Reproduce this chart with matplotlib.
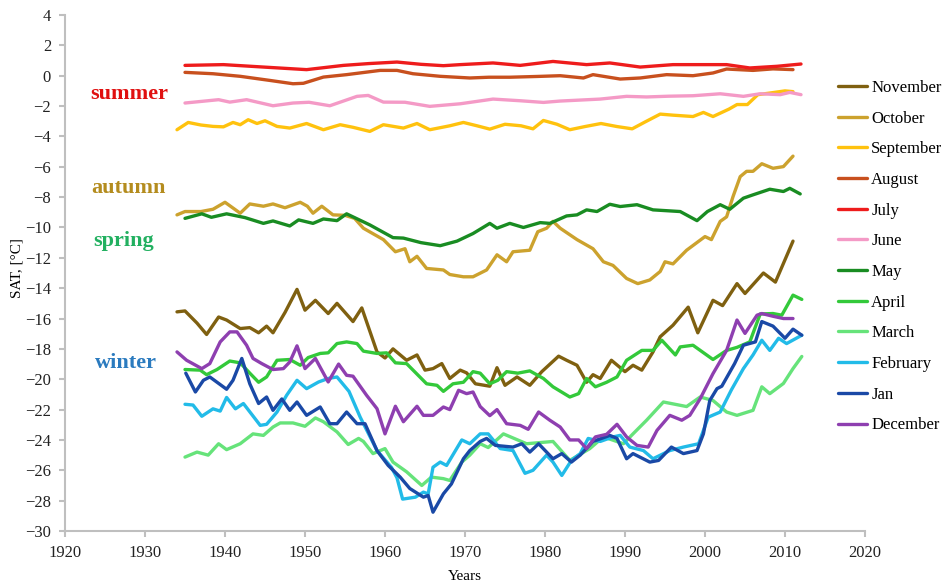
import matplotlib
matplotlib.use("Agg")
import matplotlib.pyplot as plt

plt.rcParams['font.family'] = ['Liberation Serif', 'DejaVu Serif']

# values (SAT, °C) for each calendar month
nov_years = [1934, 1935, 1936.5, 1937.7, 1939.2, 1940.2, 1941.9, 1943.1, 1944.2, 1945.2, 1946, 1947.5, 1949,
             1950, 1951.3, 1952.9, 1954, 1956, 1957.1, 1959, 1960, 1961, 1962.7, 1964, 1965, 1966, 1967.1,
             1968.1, 1969.4, 1970.2, 1971.3, 1973.1, 1974, 1975, 1976.5, 1978.1, 1979.6, 1981.7, 1982.7,
             1984, 1985.2, 1986, 1986.9, 1988.3, 1990, 1991, 1992.1, 1993.5, 1994.4, 1996, 1997.9, 1999.1,
             2001, 2002.2, 2004, 2005, 2007.3, 2008.8, 2011]
nov_vals = [-15.56, -15.5, -16.3, -17.05, -15.9, -16.1, -16.66, -16.6, -16.94, -16.5, -16.94, -15.6, -14.08,
            -15.45, -14.8, -15.67, -15.0, -16.2, -15.3, -18.2, -18.6, -18.0, -18.75, -18.4, -19.4, -19.3, -18.97,
            -19.95, -19.4, -19.58, -20.3, -20.46, -19.24, -20.4, -19.85, -20.4, -19.5, -18.48, -18.75,
            -19.08, -20.2, -19.7, -19.95, -18.75, -19.5, -19.08, -19.4, -18.2, -17.2, -16.44, -15.25, -16.94,
            -14.8, -15.15, -13.7, -14.35, -13.0, -13.6, -10.9]

oct_years = [1934, 1935, 1937, 1938.5, 1940, 1941.9, 1943.1, 1944.8, 1946, 1947.5, 1949.4, 1950.3, 1951,
             1952.1, 1953.5, 1955, 1956.2, 1957.3, 1959.8, 1961.3, 1962.5, 1963.1, 1964, 1965.2, 1967.3,
             1968.1, 1969.8, 1971, 1972.7, 1974, 1975.2, 1976, 1978.1, 1979.1, 1980.2, 1981, 1981.9, 1984,
             1986, 1987.3, 1988.5, 1990.2, 1991.6, 1993.1, 1994.4, 1995, 1996, 1997.7, 2000, 2000.8, 2001.9,
             2002.7, 2003.5, 2004.4, 2005.2, 2006, 2007.1, 2008.5, 2009.8, 2011]
oct_vals = [-9.17, -8.95, -8.95, -8.8, -8.34, -9.06, -8.45, -8.6, -8.45, -8.7, -8.34, -8.6, -9.06,
            -8.6, -9.17, -9.2, -9.4, -10.05, -10.8, -11.6, -11.4, -12.26, -11.9, -12.7, -12.8,
            -13.1, -13.25, -13.25, -12.8, -11.8, -12.26, -11.6, -11.5, -10.28, -10.05, -9.6, -10.05, -10.8,
            -11.4, -12.26, -12.5, -13.36, -13.7, -13.46, -12.9, -12.26, -12.4, -11.5, -10.6, -10.8, -9.6,
            -9.3, -7.97, -6.65, -6.3, -6.3, -5.8, -6.1, -5.99, -5.3]

sep_years = [1934, 1935.4, 1937, 1938.5, 1939.8, 1941, 1941.9, 1942.9, 1944, 1945, 1946.5, 1948.1, 1950.2,
             1952.3, 1954.4, 1956, 1958.1, 1959.8, 1962.3, 1964, 1965.6, 1968.1, 1969.8, 1971.5, 1973.1,
             1975, 1977, 1978.5, 1979.8, 1981.5, 1983.1, 1985, 1987, 1989, 1990.9, 1992.5, 1994.4, 1996,
             1998.5, 1999.8, 2001, 2003, 2004, 2005.3, 2006.6, 2008, 2010, 2011]
sep_vals = [-3.56, -3.08, -3.25, -3.34, -3.37, -3.08, -3.23, -2.9, -3.15, -2.97, -3.34, -3.45, -3.15,
            -3.56, -3.23, -3.4, -3.67, -3.23, -3.45, -3.15, -3.56, -3.3, -3.08, -3.3, -3.52,
            -3.2, -3.3, -3.5, -2.95, -3.2, -3.56, -3.35, -3.15, -3.35, -3.5, -3.05, -2.53, -2.6,
            -2.69, -2.42, -2.69, -2.2, -1.9, -1.9, -1.25, -1.15, -1.0, -1.05]

aug_years = [1935, 1938.5, 1941.9, 1945.6, 1948.5, 1949.8, 1952.3, 1955.2, 1959.4, 1961.5, 1963.5, 1966.9,
             1970.6, 1973, 1975.6, 1979, 1981.9, 1984.8, 1986, 1989.4, 1991.9, 1995.2, 1998.5, 2001,
             2002.7, 2006, 2008.5, 2011]
aug_vals = [0.22, 0.13, -0.04, -0.31, -0.53, -0.5, -0.09, 0.07, 0.35, 0.35, 0.13, -0.04,
            -0.15, -0.1, -0.1, -0.05, 0.0, -0.15, 0.07, -0.22, -0.15, 0.07, 0.0, 0.18,
            0.44, 0.35, 0.45, 0.4]

jul_years = [1935, 1939.8, 1944.8, 1950.2, 1954.8, 1958, 1961.5, 1964.5, 1967.3, 1969.4, 1973.5, 1976.9,
             1981, 1985.2, 1988.1, 1991.9, 1996, 2002.7, 2005.6, 2009, 2012]
jul_vals = [0.68, 0.73, 0.57, 0.4, 0.68, 0.8, 0.9, 0.75, 0.66, 0.73, 0.84, 0.68,
            0.94, 0.73, 0.84, 0.57, 0.73, 0.73, 0.51, 0.62, 0.77]

jun_years = [1935, 1939.2, 1940.6, 1942.7, 1946, 1948.5, 1950.5, 1953.1, 1956.5, 1957.9, 1959.8, 1962.5,
             1965.6, 1969.4, 1973.5, 1976.9, 1979.8, 1981.9, 1986.9, 1990.2, 1992.7, 1995.5, 1998.5, 2001.9,
             2004.8, 2006.9, 2009.4, 2010.6, 2012]
jun_vals = [-1.8, -1.58, -1.74, -1.58, -1.98, -1.8, -1.75, -1.98, -1.36, -1.3, -1.74, -1.75,
            -2.02, -1.85, -1.54, -1.65, -1.76, -1.67, -1.54, -1.36, -1.4, -1.35, -1.32, -1.19,
            -1.36, -1.19, -1.25, -1.1, -1.25]

may_years = [1935, 1937.1, 1938.3, 1940.2, 1942.5, 1944.8, 1946, 1948.1, 1949.2, 1951, 1952.3, 1954, 1955.2,
             1958.1, 1961, 1962.3, 1964.5, 1966.9, 1969, 1971, 1973.1, 1974, 1975.6, 1977.3, 1979.4, 1980.6,
             1982.7, 1984, 1985.2, 1986.5, 1988.1, 1989.4, 1991.5, 1993.5, 1996.9, 1999, 2000.3, 2001.9,
             2003.1, 2004.8, 2006, 2008.1, 2009.8, 2010.6, 2011.9]
may_vals = [-9.4, -9.1, -9.33, -9.1, -9.35, -9.73, -9.57, -9.9, -9.5, -9.73, -9.44, -9.55, -9.1,
            -9.83, -10.67, -10.7, -11.0, -11.2, -10.9, -10.4, -9.73, -10.05, -9.73, -10.0, -9.68, -9.73,
            -9.24, -9.17, -8.84, -8.95, -8.47, -8.62, -8.5, -8.84, -8.95, -9.55, -8.95, -8.5,
            -8.8, -8.07, -7.85, -7.48, -7.63, -7.42, -7.79]

apr_years = [1935, 1936.9, 1937.7, 1939, 1940.6, 1941.9, 1943.1, 1944.2, 1945.2, 1946.5, 1948.1, 1949.4,
             1950.4, 1951.9, 1952.9, 1954, 1955.2, 1956.5, 1957.3, 1959, 1960.2, 1961.3, 1962.7, 1965.2,
             1966.5, 1967.3, 1968.5, 1969.8, 1971, 1971.9, 1973.1, 1974.1, 1975.2, 1976.6, 1978.1, 1979.8,
             1981, 1983.1, 1984.2, 1985.2, 1986.3, 1987.7, 1989, 1990.2, 1992.1, 1993.5, 1994.6, 1996.3,
             1996.9, 1998.5, 2001, 2002.7, 2004, 2005.6, 2006.9, 2008.5, 2009.6, 2011, 2012.1]
apr_vals = [-19.36, -19.4, -19.7, -19.36, -18.8, -18.92, -19.6, -20.2, -19.85, -18.75, -18.7, -19.08,
            -18.57, -18.3, -18.26, -17.65, -17.54, -17.65, -18.15, -18.3, -18.26, -18.92, -18.97, -20.3,
            -20.4, -20.8, -20.3, -20.2, -19.5, -19.6, -20.3, -20.07, -19.5, -19.6, -19.45, -19.95,
            -20.5, -21.17, -20.95, -19.95, -20.5, -20.2, -19.85, -18.75, -18.1, -18.1, -17.43, -18.4,
            -17.87, -17.76, -18.7, -18.1, -17.9, -17.54, -15.7, -15.67, -15.78, -14.46, -14.74]

mar_years = [1935, 1936.5, 1937.9, 1939.2, 1940.2, 1941.9, 1943.5, 1944.8, 1946, 1946.9, 1948.5, 1950,
             1951.3, 1952.3, 1954, 1955.4, 1956.7, 1957.3, 1958.5, 1960, 1961, 1962.7, 1964.6, 1965.8,
             1967.3, 1968.1, 1969.6, 1970.6, 1971.9, 1972.9, 1974.8, 1977.7, 1981, 1983.1, 1985.6, 1987.3,
             1989.8, 1991, 1992.7, 1994.8, 1997.7, 1999.4, 2001, 2002.7, 2004, 2006, 2007.1, 2008.1, 2009.8,
             2011, 2012.1]
mar_vals = [-25.13, -24.8, -25.0, -24.25, -24.64, -24.25, -23.6, -23.7, -23.15, -22.88, -22.88, -23.1,
            -22.55, -22.8, -23.47, -24.3, -23.9, -24.1, -24.9, -24.57, -25.46, -26.1, -27.0, -26.45,
            -26.55, -26.67, -25.46, -25.0, -24.25, -24.5, -23.6, -24.25, -24.1, -25.35, -24.57, -23.8,
            -24.25, -23.6, -22.7, -21.5, -21.8, -21.17, -21.4, -22.16, -22.38, -22.05, -20.5, -20.95, -20.28,
            -19.3, -18.5]

feb_years = [1935, 1936, 1937.1, 1938.5, 1939.4, 1940.2, 1941.3, 1942.3, 1944.4, 1945.2, 1946.5, 1947.7,
             1949, 1950.2, 1951.7, 1952.9, 1954, 1955.5, 1956.9, 1959, 1960.8, 1961.5, 1962.2, 1963.8,
             1964.8, 1965.4, 1966, 1966.9, 1967.7, 1969.6, 1970.6, 1971.9, 1972.9, 1974.4, 1976, 1977.5,
             1978.5, 1980.2, 1981, 1982.1, 1983.3, 1984.4, 1985.4, 1986.9, 1988.5, 1989.4, 1990.6, 1992.3,
             1993.5, 1995.6, 1997.3, 1999.2, 2000.4, 2001.9, 2003.3, 2004.8, 2006, 2007.1, 2008.1, 2009.2,
             2010.2, 2012.1]
feb_vals = [-21.65, -21.7, -22.44, -21.95, -22.1, -21.2, -21.95, -21.6, -23.04, -22.97, -22.16, -21.06,
            -20.07, -20.62, -20.18, -19.95, -19.85, -20.8, -22.5, -24.7, -25.8, -26.5, -27.9, -27.77,
            -27.44, -27.55, -25.8, -25.46, -25.68, -24.0, -24.25, -23.6, -23.6, -24.57, -24.7, -26.2,
            -26.0, -25.0, -25.46, -26.34, -25.35, -24.9, -23.9, -24.1, -23.8, -23.7, -24.47, -24.7,
            -25.24, -24.7, -24.47, -24.25, -22.5, -22.16, -20.7, -19.3, -18.4, -17.43, -18.1, -17.3,
            -17.65, -17.1]

jan_years = [1935.1, 1936.3, 1937.3, 1938.1, 1940.2, 1941, 1942.1, 1943.1, 1944.2, 1945.2, 1946, 1947.1,
             1948.1, 1949, 1950.2, 1951.9, 1953.1, 1954, 1955.2, 1956.5, 1957.5, 1959, 1960.4, 1961.9,
             1963.1, 1964.8, 1965.4, 1966, 1967.3, 1968.3, 1969.8, 1970.6, 1971.9, 1972.7, 1973.8, 1976,
             1977.1, 1978.1, 1979.2, 1981, 1982.1, 1983.3, 1984.4, 1986, 1988.1, 1989, 1990.2, 1991,
             1993.1, 1994.2, 1995.8, 1997.3, 1999, 1999.8, 2000.6, 2001.5, 2002.1, 2003.7, 2004.8, 2006.3,
             2007.1, 2008.5, 2010, 2011, 2012.1]
jan_vals = [-19.6, -20.84, -20.07, -19.85, -20.66, -20.07, -18.63, -20.3, -21.6, -21.17, -22.05, -21.3,
            -22.05, -21.5, -22.38, -21.83, -22.93, -22.93, -22.16, -22.93, -22.93, -24.7, -25.68, -26.45,
            -27.2, -27.77, -27.66, -28.76, -27.55, -26.9, -25.24, -24.7, -24.1, -23.9, -24.36, -24.47,
            -24.25, -24.8, -24.25, -25.24, -24.9, -25.46, -25.0, -24.1, -23.7, -23.9, -25.24, -24.9,
            -25.46, -25.35, -24.47, -24.9, -24.7, -23.6, -21.4, -20.62, -20.46, -18.97, -17.76, -17.54,
            -16.2, -16.5, -17.3, -16.7, -17.1]

dec_years = [1934, 1935.2, 1937.1, 1938.1, 1939.4, 1940.6, 1941.5, 1942.7, 1943.5, 1944.6, 1946, 1947.3,
             1948.1, 1949, 1950, 1951.3, 1952.9, 1954.2, 1955.2, 1956, 1957.7, 1959, 1960, 1961.3, 1962.3,
             1964, 1964.8, 1966, 1967.3, 1968.1, 1969.2, 1970.2, 1971, 1971.9, 1973.1, 1974, 1975.2, 1976.9,
             1977.9, 1979.2, 1980.6, 1981.9, 1983.1, 1984.2, 1985.2, 1986.3, 1987.7, 1989, 1990.2, 1991.5,
             1992.9, 1994, 1995.6, 1997.1, 1998.1, 1999.4, 2001, 2002.7, 2004, 2005, 2006.5, 2007.1, 2008.5,
             2009.8, 2011]
dec_vals = [-18.2, -18.75, -19.3, -18.97, -17.54, -16.88, -16.88, -17.76, -18.63, -18.97, -19.36, -19.3,
            -18.86, -17.8, -19.3, -18.63, -20.18, -19.0, -19.74, -19.8, -21.06, -21.94, -23.6, -21.78, -22.8,
            -21.78, -22.38, -22.38, -21.83, -22.0, -20.73, -20.95, -20.84, -21.8, -22.4, -22.0, -22.93, -23.04,
            -23.3, -22.16, -22.7, -23.15, -24.0, -24.0, -24.57, -23.8, -23.63, -22.97, -23.8, -24.36,
            -24.47, -23.37, -22.38, -22.7, -22.38, -21.28, -19.63, -18.1, -16.1, -16.98, -15.78, -15.67, -15.85,
            -16.0, -16.0]

months = ['November', 'October', 'September', 'August', 'July', 'June',
          'May', 'April', 'March', 'February', 'Jan', 'December']
colors = ['#7F6010', '#CCA22E', '#FFC20E', '#C8501E', '#EE1C1C', '#F49AC6',
          '#198C22', '#33C93A', '#66E37A', '#22BBE8', '#1A49A6', '#8E3FB0']
series = [(nov_years, nov_vals), (oct_years, oct_vals), (sep_years, sep_vals), (aug_years, aug_vals),
          (jul_years, jul_vals), (jun_years, jun_vals), (may_years, may_vals), (apr_years, apr_vals),
          (mar_years, mar_vals), (feb_years, feb_vals), (jan_years, jan_vals), (dec_years, dec_vals)]

seasons = ['summer', 'autumn', 'spring', 'winter']
season_colors = ['#E01010', '#B48C1E', '#22B060', '#2B7BBF']
season_pos = [(1923.1, -1.52), (1923.3, -7.7), (1923.5, -11.22), (1923.7, -19.23)]

fig = plt.figure(figsize=(9.51, 5.86), dpi=100)
ax = fig.add_axes([65 / 951, 55 / 586, 800 / 951, 516 / 586])

for name, col, (xs, ys) in zip(months, colors, series):
    ax.plot(xs, ys, color=col, lw=2.4, label=name, solid_joinstyle='round', solid_capstyle='round')

for s, c, (x, y) in zip(seasons, season_colors, season_pos):
    ax.text(x, y, s, color=c, fontsize=16, fontweight='bold', ha='left', va='baseline')

ax.set_xlim(1920, 2020)
ax.set_ylim(-30, 4)
ax.set_xticks(range(1920, 2021, 10))
ax.set_yticks(range(-30, 5, 2))
for sp in ['top', 'right']:
    ax.spines[sp].set_visible(False)
for sp in ['left', 'bottom']:
    ax.spines[sp].set_color('#BFBFBF')
    ax.spines[sp].set_linewidth(1.5)
ax.tick_params(direction='out', length=4, width=1.5, color='#BFBFBF', labelsize=12, pad=6,
               labelcolor='#222222')

fig.text(465 / 951, 1 - 577 / 586, 'Years', ha='center', va='center', fontsize=11)
fig.text(17 / 951, 1 - 268 / 586, 'SAT, [°C]', ha='center', va='center', rotation=90, fontsize=11)

fig.legend(loc='upper left', bbox_to_anchor=(838 / 951, 1 - 80 / 586), frameon=False, fontsize=12,
           handlelength=1.75, handletextpad=0.25, labelspacing=0.88, borderpad=0, borderaxespad=0)

fig.savefig('out.png', dpi=100)
